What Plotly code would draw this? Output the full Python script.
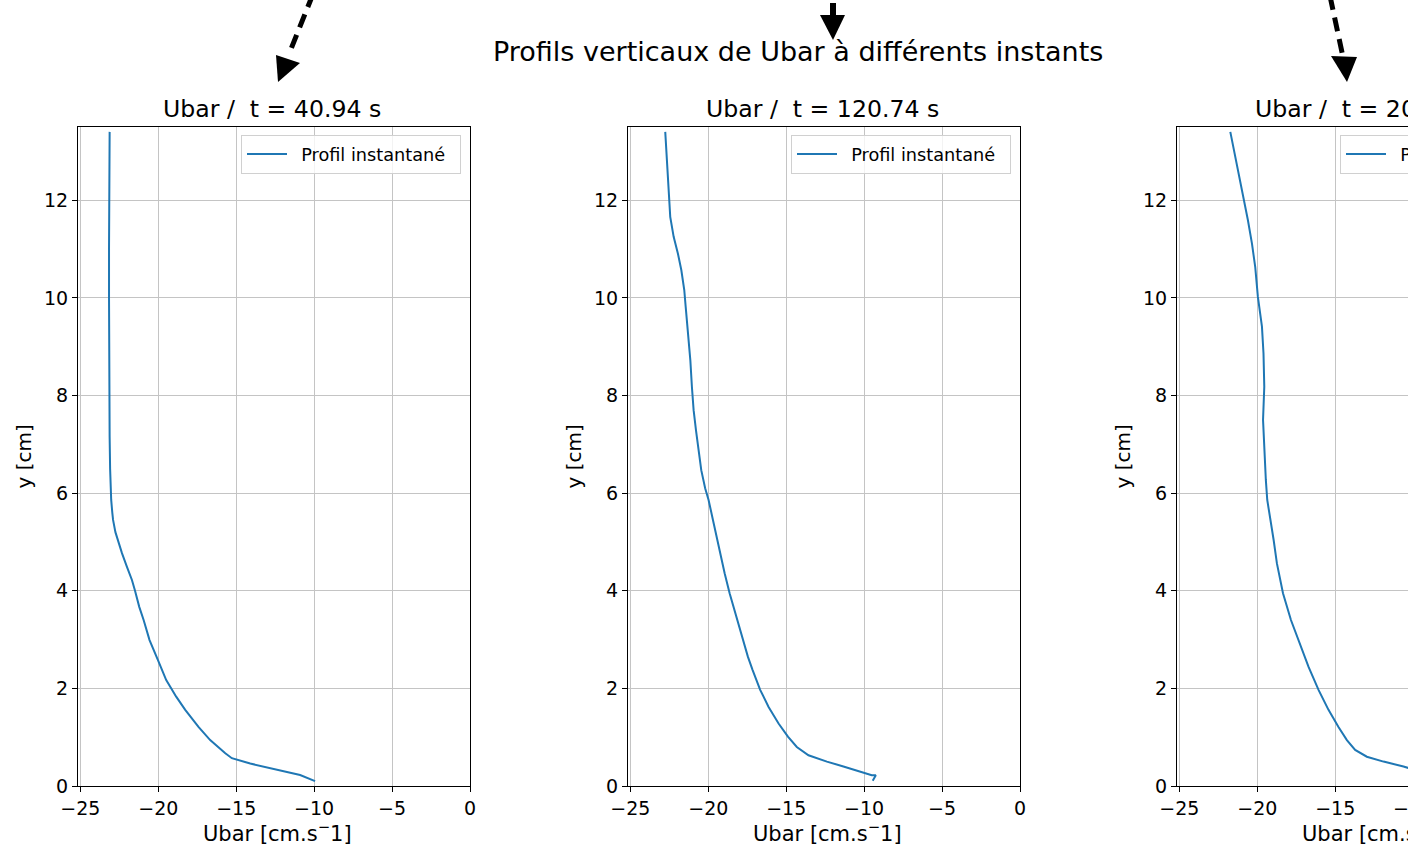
import plotly.graph_objects as go

# ---------------- data ----------------
titles = ["Ubar /  t = 40.94 s", "Ubar /  t = 120.74 s", "Ubar /  t = 200.54 s"]
suptitle = "Profils verticaux de Ubar à différents instants"
legend_name = "Profil instantané"
x_label = "Ubar [cm.s<sup>−</sup>1]"
y_label = "y [cm]"
x_ticks = [-25, -20, -15, -10, -5, 0]
y_ticks = [0, 2, 4, 6, 8, 10, 12]

y1 = [13.4, 12.5, 11.0, 10.0, 9.0, 8.0, 7.15, 6.5, 6.13, 5.86, 5.6, 5.45, 5.2, 5.04, 4.77,
      4.49, 4.22, 4.01, 3.67, 3.40, 2.99, 2.58, 2.17, 1.83, 1.56, 1.21, 0.94, 0.67, 0.57,
      0.46, 0.33, 0.225, 0.10]
u1 = [-23.12, -23.15, -23.16, -23.16, -23.16, -23.15, -23.12, -23.09, -23.06, -23.02, -22.95,
      -22.9, -22.75, -22.61, -22.33, -22.01, -21.69, -21.5, -21.22, -20.94, -20.56, -20.02,
      -19.49, -18.85, -18.27, -17.42, -16.67, -15.7, -15.28, -14.1, -12.4, -10.9, -9.94]

y2 = [13.4, 12.96, 12.41, 12.0, 11.66, 11.25, 10.91, 10.57, 10.16, 9.82, 9.27, 8.72, 8.18,
      7.70, 7.29, 6.81, 6.47, 6.1, 5.86, 5.45, 4.90, 4.36, 3.95, 3.54, 3.06, 2.65, 2.38,
      1.97, 1.62, 1.28, 1.01, 0.80, 0.63, 0.50, 0.40, 0.29, 0.22, 0.22, 0.11]
u2 = [-22.76, -22.69, -22.58, -22.5, -22.44, -22.22, -21.95, -21.73, -21.54, -21.45, -21.28,
      -21.15, -21.05, -20.94, -20.79, -20.6, -20.45, -20.2, -19.98, -19.7, -19.34, -18.95,
      -18.63, -18.27, -17.84, -17.46, -17.16, -16.67, -16.13, -15.49, -14.89, -14.32, -13.57,
      -12.39, -11.33, -10.26, -9.51, -9.25, -9.45]

y3 = [13.4, 12.96, 12.41, 12.0, 11.59, 11.11, 10.63, 10.02, 9.41, 8.86, 8.18, 7.50, 6.81,
      6.27, 5.86, 5.51, 5.04, 4.56, 3.95, 3.40, 2.85, 2.44, 1.97, 1.56, 1.21, 0.94, 0.74,
      0.60, 0.50, 0.40, 0.30, 0.20]
u3 = [-21.73, -21.45, -21.09, -20.83, -20.6, -20.34, -20.13, -19.96, -19.7, -19.6, -19.55,
      -19.63, -19.55, -19.45, -19.36, -19.17, -18.95, -18.74, -18.35, -17.84, -17.18, -16.71,
      -16.07, -15.43, -14.79, -14.25, -13.72, -12.97, -11.9, -10.62, -9.6, -9.1]

profiles = [(u1, y1), (u2, y2), (u3, y3)]

# ---------------- layout geometry (pixels) ----------------
W, H = 1600, 865
FONT = "DejaVu Sans"
panel_left = [78, 628, 1177]
panel_w = 392
top_px, bottom_px = 127, 786


def fx(p):
    return p / W


def fy(p):
    return 1 - p / H


fig = go.Figure()

for i, (u, y) in enumerate(profiles):
    sfx = "" if i == 0 else str(i + 1)
    fig.add_trace(go.Scatter(
        x=u, y=y, mode="lines", name="\u00a0\u2009" + legend_name + "\u00a0\u2009",
        line=dict(color="#1f77b4", width=2),
        xaxis="x" + sfx, yaxis="y" + sfx,
        legend="legend" + sfx, showlegend=True,
    ))
    L = panel_left[i]
    axis_common = dict(
        showline=True, mirror=True, linecolor="black", linewidth=1,
        ticks="outside", ticklen=5, tickwidth=1, tickcolor="black",
        showgrid=True, gridcolor="#c4c4c4", gridwidth=1, zeroline=False,
        automargin=False,
        tickfont=dict(family=FONT, size=19, color="black"),
    )
    fig.update_layout(**{
        "xaxis" + sfx: dict(
            domain=[fx(L), fx(L + panel_w)], range=[-25.15, 0],
            tickvals=x_ticks, anchor="y" + sfx, **axis_common),
        "yaxis" + sfx: dict(
            domain=[fy(bottom_px), fy(top_px)], range=[0, 13.5],
            tickvals=y_ticks, anchor="x" + sfx, **axis_common),
        "legend" + sfx: dict(
            x=fx(L + panel_w - 9), y=fy(top_px + 8), xanchor="right", yanchor="top",
            xref="paper", yref="paper", itemwidth=40,
            bgcolor="rgba(255,255,255,0.8)", bordercolor="#d0d0d0", borderwidth=1,
            font=dict(family=FONT, size=17.7, color="black"),
        ),
    })
    cx = L + panel_w / 2
    fig.add_annotation(text=titles[i], x=fx(cx - 2), y=fy(109), xref="paper", yref="paper",
                       showarrow=False, xanchor="center", yanchor="middle",
                       font=dict(family=FONT, size=23.6, color="black"))
    fig.add_annotation(text=x_label, x=fx(cx + 3), y=fy(832), xref="paper", yref="paper",
                       showarrow=False, xanchor="center", yanchor="middle",
                       font=dict(family=FONT, size=21, color="black"))
    fig.add_annotation(text=y_label, x=fx(L - 55), y=fy((top_px + bottom_px) / 2),
                       xref="paper", yref="paper", textangle=-90,
                       showarrow=False, xanchor="center", yanchor="middle",
                       font=dict(family=FONT, size=20, color="black"))

fig.add_annotation(text=suptitle, x=fx(798), y=fy(52), xref="paper", yref="paper",
                   showarrow=False, xanchor="center", yanchor="middle",
                   font=dict(family=FONT, size=27, color="black"))

# ---------------- hand-drawn arrows ----------------
shapes = []
dashed = [((313, -6), (289, 54)), ((1330, -4), (1343, 57))]
for (a, b) in dashed:
    shapes.append(dict(type="line", xref="paper", yref="paper",
                       x0=fx(a[0]), y0=fy(a[1]), x1=fx(b[0]), y1=fy(b[1]),
                       line=dict(color="black", width=5, dash="14px,8px")))
heads = [[(276, 55), (300, 63), (278, 82)],
         [(1331, 56), (1357, 57), (1347, 82)],
         [(820, 15), (845, 15), (833, 40)]]
for tri in heads:
    path = "M {} {} L {} {} L {} {} Z".format(
        fx(tri[0][0]), fy(tri[0][1]), fx(tri[1][0]), fy(tri[1][1]), fx(tri[2][0]), fy(tri[2][1]))
    shapes.append(dict(type="path", xref="paper", yref="paper", path=path,
                       fillcolor="black", line=dict(width=0)))
shapes.append(dict(type="rect", xref="paper", yref="paper",
                   x0=fx(830), x1=fx(836), y0=fy(3), y1=fy(16),
                   fillcolor="black", line=dict(width=0)))

fig.update_layout(
    template="none",
    width=W, height=H, margin=dict(l=0, r=0, t=0, b=0, autoexpand=False),
    paper_bgcolor="white", plot_bgcolor="white",
    shapes=shapes, showlegend=True,
)

fig.write_html(
    "out.html",
    config={"displayModeBar": False},
    post_script="document.body.style.margin='0';document.body.style.overflow='hidden';"
                "document.documentElement.style.overflow='hidden';",
)
